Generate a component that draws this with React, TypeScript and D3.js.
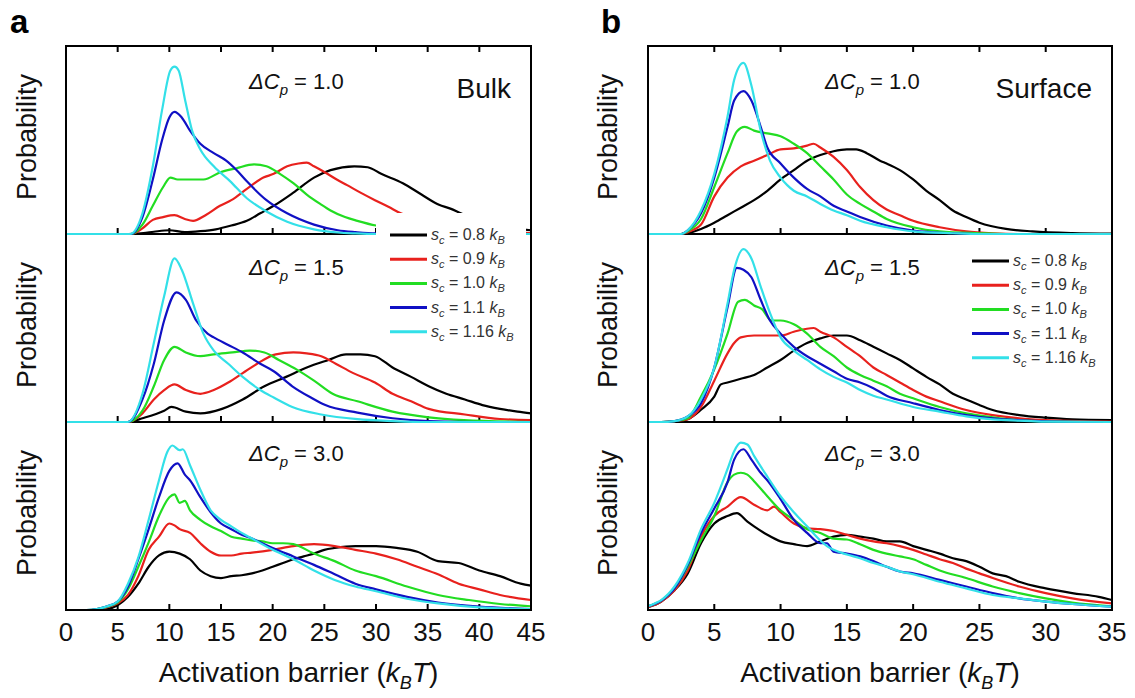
import React from 'react';
import * as d3 from 'd3';

type Pt = [number, number];

// ---- legend / labels ----
const scLabels = ['0.8', '0.9', '1.0', '1.1', '1.16'];
const seriesColors = ['#000000', '#e8211d', '#22dd22', '#1010c4', '#33e0e8'];
const dCpLabels = ['1.0', '1.5', '3.0'];
const bulkTicks = [0, 5, 10, 15, 20, 25, 30, 35, 40, 45];
const surfTicks = [0, 5, 10, 15, 20, 25, 30, 35];

// ---- Bulk, ΔCp = 1.0 ----
const b10_s08: Pt[] = [[0,0],[6,0],[7.5,0.005],[8.5,0.012],[10,0.02],[11.5,0.01],[13,0.015],[14.5,0.025],[16,0.045],[17.5,0.07],[18.8,0.11],[20.1,0.15],[22,0.22],[24,0.3],[25.6,0.34],[27.9,0.36],[29.2,0.355],[30.5,0.32],[32.6,0.27],[34.4,0.21],[36.1,0.155],[37.2,0.135],[38.2,0.11],[40,0.07],[42,0.04],[45,0.02]];
const b10_s09: Pt[] = [[0,0],[6.3,0],[7.4,0.03],[8.4,0.075],[9.4,0.09],[10.5,0.1],[11.5,0.08],[12.3,0.07],[13.5,0.1],[14.9,0.15],[16,0.18],[17.5,0.24],[19.1,0.3],[20.1,0.32],[21.4,0.36],[22.5,0.375],[23.3,0.38],[24,0.36],[25,0.33],[26.2,0.29],[27.2,0.26],[28.5,0.22],[29.9,0.18],[31.2,0.145],[32.4,0.11],[34,0.08],[36,0.05],[40,0.02],[45,0.005]];
const b10_s10: Pt[] = [[0,0],[6.3,0],[7.4,0.05],[8.4,0.15],[9.4,0.25],[10.1,0.3],[10.8,0.29],[12.2,0.29],[13.3,0.29],[15,0.33],[16.5,0.35],[18.2,0.37],[19.4,0.36],[20.7,0.32],[22,0.27],[23.3,0.21],[24.6,0.16],[25.6,0.125],[27,0.09],[28.2,0.07],[30,0.045],[32,0.03],[35,0.015],[38,0.006],[45,0]];
const b10_s11: Pt[] = [[0,0],[6.3,0],[7.4,0.09],[8.4,0.29],[9.3,0.5],[10,0.62],[10.5,0.65],[11.2,0.62],[12,0.55],[13,0.48],[14.3,0.43],[15.5,0.39],[16.5,0.34],[17.5,0.28],[19.4,0.18],[21.4,0.11],[24,0.05],[26.3,0.02],[28,0.01],[30,0.003],[45,0]];
const b10_s116: Pt[] = [[0,0],[6.2,0],[7.4,0.11],[8.4,0.36],[9.3,0.66],[10.1,0.87],[10.5,0.89],[10.9,0.87],[11.5,0.72],[12.2,0.55],[13,0.45],[14.3,0.36],[15.9,0.28],[17.5,0.19],[19.4,0.12],[21.4,0.065],[24,0.025],[26.3,0.008],[28,0.003],[30,0],[45,0]];

// ---- Bulk, ΔCp = 1.5 ----
const b15_s08: Pt[] = [[0,0],[6,0],[7.4,0.02],[9.5,0.06],[10.2,0.08],[11.6,0.055],[13,0.046],[15.1,0.07],[17.1,0.12],[19.2,0.19],[21.3,0.24],[23.3,0.29],[25.4,0.33],[27.1,0.36],[28.5,0.36],[29.9,0.35],[31.6,0.29],[33.4,0.24],[35.1,0.19],[36.8,0.15],[38.6,0.12],[40.3,0.09],[42,0.07],[43.7,0.055],[45,0.046]];
const b15_s09: Pt[] = [[0,0],[6,0],[7.4,0.046],[8.5,0.12],[9.5,0.17],[10.5,0.2],[11.6,0.17],[13,0.15],[14.3,0.17],[15.7,0.21],[17.1,0.26],[18.5,0.31],[20.3,0.36],[22,0.37],[23.3,0.365],[24.7,0.35],[26.1,0.31],[27.8,0.26],[29.9,0.21],[31.6,0.15],[33.4,0.11],[35.1,0.07],[38.6,0.04],[42,0.016],[45,0.01]];
const b15_s10: Pt[] = [[0,0],[6,0],[7.4,0.06],[8.5,0.19],[9.5,0.33],[10.5,0.4],[11.6,0.37],[13,0.35],[14.3,0.36],[16.1,0.37],[17.8,0.38],[19.2,0.37],[20.6,0.33],[22.3,0.28],[24,0.22],[25.8,0.15],[28.2,0.11],[31.6,0.055],[35.1,0.025],[38.5,0.01],[45,0]];
const b15_s11: Pt[] = [[0,0],[6,0],[7.4,0.12],[8.5,0.31],[9.5,0.54],[10.7,0.69],[11.6,0.65],[12.6,0.54],[13.7,0.47],[14.3,0.45],[15.7,0.41],[17.1,0.37],[18.8,0.31],[20.1,0.27],[21.9,0.19],[23.7,0.13],[25.1,0.09],[28.2,0.05],[31.6,0.02],[35.1,0.005],[40,0],[45,0]];
const b15_s116: Pt[] = [[0,0],[6,0],[7.4,0.15],[8.5,0.42],[9.5,0.67],[10.5,0.87],[11.2,0.81],[12.3,0.63],[13.3,0.47],[14.3,0.38],[15.7,0.31],[17.1,0.24],[18.8,0.17],[20.1,0.13],[21.9,0.08],[24.7,0.04],[28.2,0.015],[31.6,0.005],[35,0],[45,0]];

// ---- Bulk, ΔCp = 3.0 ----
const b30_s08: Pt[] = [[0,0],[3,0],[4,0.005],[5,0.025],[6,0.07],[7,0.14],[8,0.23],[9,0.29],[10,0.31],[11,0.3],[12,0.27],[13,0.21],[14,0.18],[15,0.17],[16,0.18],[17,0.185],[18,0.195],[19,0.21],[20,0.23],[21,0.25],[22,0.27],[23,0.285],[24,0.3],[25,0.32],[26,0.33],[28,0.34],[30,0.34],[32,0.33],[34,0.31],[36,0.26],[38,0.25],[40,0.21],[42,0.18],[44,0.14],[45,0.13]];
const b30_s09: Pt[] = [[0,0],[2.5,0],[4,0.015],[5,0.035],[6,0.08],[7,0.18],[8,0.32],[9,0.39],[10,0.46],[10.5,0.45],[11,0.43],[12,0.41],[13,0.355],[14,0.31],[15,0.29],[16,0.29],[17,0.3],[18,0.305],[20,0.32],[22,0.34],[24,0.35],[26,0.34],[28,0.32],[30,0.3],[32,0.27],[34,0.23],[36,0.19],[38,0.14],[40,0.11],[42,0.08],[45,0.053]];
const b30_s10: Pt[] = [[0,0],[2,0],[3,0.005],[4,0.018],[5,0.04],[6,0.11],[7,0.23],[8,0.36],[9,0.5],[10,0.6],[10.5,0.615],[11,0.57],[11.5,0.58],[12,0.53],[13,0.48],[14,0.445],[15,0.42],[16,0.39],[17,0.38],[18,0.37],[19,0.365],[20,0.355],[21,0.355],[22,0.35],[24,0.3],[26,0.26],[28,0.21],[30,0.18],[33,0.125],[36,0.08],[39,0.053],[42,0.032],[45,0.02]];
const b30_s11: Pt[] = [[0,0],[2,0],[3,0.005],[4,0.02],[5,0.045],[6,0.125],[7,0.27],[8,0.43],[9,0.6],[10,0.74],[10.8,0.78],[11.5,0.72],[12,0.69],[13,0.6],[14,0.52],[15,0.46],[16,0.43],[17,0.4],[18,0.38],[20,0.33],[22,0.285],[24,0.24],[26,0.19],[28,0.14],[30,0.11],[33,0.07],[36,0.04],[40,0.018],[45,0.005]];
const b30_s116: Pt[] = [[0,0],[2,0],[3,0.005],[4,0.02],[5,0.045],[6,0.14],[7,0.28],[8,0.48],[9,0.69],[9.8,0.84],[10.3,0.875],[11,0.85],[11.3,0.855],[12,0.77],[13,0.64],[14,0.53],[15,0.48],[16,0.445],[17,0.41],[18,0.38],[20,0.32],[22,0.27],[24,0.21],[26,0.16],[28,0.125],[30,0.1],[33,0.06],[36,0.035],[40,0.014],[45,0.005]];

// ---- Surface, ΔCp = 1.0 ----
const s10_s08: Pt[] = [[0,0],[2.5,0],[3,0.005],[4,0.027],[5,0.06],[6,0.1],[7,0.14],[8,0.18],[9,0.23],[10,0.29],[11,0.34],[12,0.39],[13,0.42],[14,0.44],[15,0.45],[15.7,0.45],[16.5,0.43],[17.5,0.39],[18,0.375],[19,0.34],[20,0.29],[21,0.23],[22,0.18],[23,0.125],[24,0.09],[25,0.06],[27,0.027],[29,0.014],[32,0.005],[35,0.002]];
const s10_s09: Pt[] = [[0,0],[2.5,0],[3,0.01],[4,0.05],[5,0.2],[6,0.3],[7,0.36],[8,0.39],[9,0.42],[10,0.45],[11,0.455],[12,0.47],[12.5,0.48],[13,0.46],[14,0.41],[15,0.34],[16,0.25],[17,0.18],[18,0.13],[19,0.1],[20,0.07],[22,0.036],[24,0.014],[26,0.004],[28,0],[35,0]];
const s10_s10: Pt[] = [[0,0],[2.5,0],[3,0.015],[4,0.08],[5,0.25],[6,0.43],[6.7,0.545],[7.3,0.57],[8,0.55],[9,0.535],[10,0.52],[11,0.48],[12,0.43],[13,0.36],[14,0.29],[15,0.21],[16,0.16],[17,0.12],[18,0.08],[20,0.036],[22,0.014],[25,0.004],[27,0],[35,0]];
const s10_s11: Pt[] = [[0,0],[2.5,0],[3,0.02],[4,0.11],[5,0.3],[6,0.57],[6.5,0.71],[7.2,0.76],[7.8,0.71],[8.5,0.57],[9,0.46],[10,0.375],[11,0.3],[12,0.24],[13,0.2],[14,0.15],[15,0.12],[16,0.09],[18,0.045],[20,0.018],[23,0.004],[25,0],[35,0]];
const s10_s116: Pt[] = [[0,0],[2.5,0],[3,0.02],[4,0.125],[5,0.32],[6,0.625],[6.5,0.82],[7.2,0.91],[7.8,0.79],[8.5,0.55],[9.2,0.39],[10,0.3],[10.5,0.26],[11,0.23],[12,0.2],[13,0.16],[14,0.125],[15,0.1],[16,0.07],[18,0.036],[20,0.014],[23,0.004],[25,0],[35,0]];

// ---- Surface, ΔCp = 1.5 ----
const s15_s08: Pt[] = [[0,0],[1,0],[2,0.003],[3,0.015],[4,0.065],[5,0.135],[5.5,0.2],[6,0.21],[7,0.23],[8,0.25],[9,0.29],[10,0.33],[11,0.38],[12,0.42],[13,0.445],[14,0.46],[15,0.46],[16,0.435],[17,0.4],[18,0.365],[19,0.33],[20,0.285],[21,0.24],[22,0.2],[23,0.15],[24,0.12],[25,0.09],[26,0.064],[28,0.037],[30,0.023],[32,0.014],[35,0.01]];
const s15_s09: Pt[] = [[0,0],[1,0],[2,0.005],[3,0.015],[4,0.08],[5,0.22],[6,0.365],[6.5,0.42],[7,0.45],[8,0.46],[9,0.46],[10,0.46],[11,0.48],[12.5,0.5],[13,0.48],[14,0.45],[15,0.4],[16,0.35],[17,0.29],[18,0.25],[19,0.21],[20,0.17],[21,0.135],[22,0.11],[24,0.064],[26,0.037],[28,0.02],[30,0.01],[33,0.004],[35,0.002]];
const s15_s10: Pt[] = [[0,0],[1,0],[2,0.005],[3,0.02],[4,0.135],[5,0.28],[6,0.47],[6.8,0.64],[7.3,0.65],[8,0.62],[8.6,0.6],[9.3,0.54],[10,0.54],[11,0.52],[12,0.47],[13,0.4],[14,0.35],[15,0.29],[16,0.25],[17,0.22],[18,0.19],[19,0.15],[20,0.126],[22,0.08],[24,0.046],[26,0.025],[28,0.01],[30,0.004],[35,0]];
const s15_s11: Pt[] = [[0,0],[1,0],[2,0.005],[3,0.03],[4,0.1],[5,0.29],[6,0.61],[6.7,0.82],[7.2,0.81],[7.8,0.77],[8.5,0.65],[9.2,0.54],[10,0.47],[11,0.4],[12,0.35],[13,0.31],[14,0.27],[15,0.23],[16,0.21],[17,0.18],[18,0.14],[20,0.1],[22,0.064],[24,0.037],[26,0.02],[28,0.01],[30,0.004],[35,0]];
const s15_s116: Pt[] = [[0,0],[1,0],[2,0.005],[3,0.03],[4,0.12],[5,0.29],[6,0.63],[6.5,0.81],[7.2,0.92],[7.8,0.87],[8.5,0.72],[9.2,0.58],[10,0.45],[11,0.38],[12,0.33],[13,0.28],[14,0.24],[15,0.21],[16,0.17],[17,0.14],[18,0.12],[20,0.08],[22,0.055],[24,0.03],[26,0.014],[28,0.007],[30,0.002],[35,0]];

// ---- Surface, ΔCp = 3.0 ----
const s30_s08: Pt[] = [[0,0.015],[1,0.045],[2,0.105],[3,0.195],[4,0.355],[5,0.46],[6,0.5],[6.7,0.515],[7.5,0.47],[8,0.445],[9,0.4],[10,0.365],[11,0.35],[12,0.34],[13,0.365],[14,0.39],[15,0.4],[16,0.39],[17,0.38],[18,0.365],[19,0.365],[20,0.34],[21,0.32],[22,0.3],[23,0.275],[24,0.26],[25,0.23],[26,0.195],[27,0.18],[28,0.15],[30,0.115],[32,0.09],[34,0.07],[35,0.053]];
const s30_s09: Pt[] = [[0,0.015],[1,0.045],[2,0.105],[3,0.21],[4,0.39],[5,0.5],[6,0.55],[7,0.6],[8,0.56],[9,0.53],[9.5,0.55],[10,0.52],[11,0.46],[12,0.435],[13,0.43],[14,0.42],[15,0.4],[16,0.38],[17,0.365],[18,0.355],[19,0.34],[20,0.32],[21,0.295],[22,0.27],[23,0.25],[24,0.22],[25,0.195],[26,0.17],[28,0.125],[30,0.09],[32,0.062],[35,0.035]];
const s30_s10: Pt[] = [[0,0.02],[1,0.05],[2,0.115],[3,0.23],[4,0.37],[5,0.5],[6,0.68],[6.5,0.72],[7,0.73],[7.5,0.72],[8,0.685],[9,0.605],[10,0.53],[11,0.48],[12,0.43],[13,0.41],[14,0.38],[15,0.375],[16,0.35],[17,0.32],[18,0.3],[19,0.285],[20,0.27],[21,0.24],[22,0.21],[24,0.17],[26,0.125],[28,0.09],[30,0.062],[32,0.04],[35,0.02]];
const s30_s11: Pt[] = [[0,0.02],[1,0.05],[2,0.115],[3,0.24],[4,0.41],[5,0.54],[6,0.68],[6.5,0.8],[7.2,0.855],[7.8,0.8],[8.5,0.73],[9,0.69],[10,0.59],[11,0.48],[12,0.41],[13,0.355],[13.5,0.355],[14,0.31],[15,0.3],[16,0.285],[17,0.26],[18,0.23],[19,0.205],[20,0.195],[22,0.16],[24,0.125],[26,0.09],[28,0.062],[30,0.045],[32,0.032],[35,0.018]];
const s30_s116: Pt[] = [[0,0.02],[0.5,0.035],[1,0.053],[2,0.125],[3,0.25],[4,0.43],[5,0.57],[6,0.75],[6.5,0.845],[7,0.89],[7.5,0.88],[8,0.82],[9,0.71],[10,0.605],[11,0.52],[12,0.445],[13,0.37],[13.5,0.34],[14,0.32],[15,0.295],[16,0.275],[17,0.25],[18,0.23],[19,0.205],[20,0.19],[22,0.15],[24,0.115],[26,0.08],[28,0.062],[30,0.045],[32,0.032],[35,0.018]];

const bulkRows: Pt[][][] = [
  [b10_s08, b10_s09, b10_s10, b10_s11, b10_s116],
  [b15_s08, b15_s09, b15_s10, b15_s11, b15_s116],
  [b30_s08, b30_s09, b30_s10, b30_s11, b30_s116],
];
const surfRows: Pt[][][] = [
  [s10_s08, s10_s09, s10_s10, s10_s11, s10_s116],
  [s15_s08, s15_s09, s15_s10, s15_s11, s15_s116],
  [s30_s08, s30_s09, s30_s10, s30_s11, s30_s116],
];

const FONT = '"Liberation Sans", Arial, sans-serif';
const TOP = 46;
const ROW_H = 188;

type ColCfg = {
  key: string;
  letter: string;
  x0: number;
  x1: number;
  max: number;
  ticks: number[];
  rows: Pt[][][];
  tag: string;
  dcpX: number;
  legendX: number;
  legendY: number;
  ylabX: number;
};

const cols: ColCfg[] = [
  { key: 'a', letter: 'a', x0: 66, x1: 531, max: 45, ticks: bulkTicks, rows: bulkRows, tag: 'Bulk', dcpX: 249, legendX: 390, legendY: 235, ylabX: 36 },
  { key: 'b', letter: 'b', x0: 648, x1: 1112, max: 35, ticks: surfTicks, rows: surfRows, tag: 'Surface', dcpX: 825, legendX: 972, legendY: 261, ylabX: 617 },
];

function DCp({ x, y, v }: { x: number; y: number; v: string }) {
  return (
    <text x={x} y={y} fontFamily={FONT} fontSize={22} fill="#111">
      <tspan fontStyle="italic">ΔC</tspan>
      <tspan fontStyle="italic" fontSize={15} dy={6}>p</tspan>
      <tspan dy={-6}> = {v}</tspan>
    </text>
  );
}

function Column({ c }: { c: ColCfg }) {
  const x = d3.scaleLinear().domain([0, c.max]).range([c.x0, c.x1]);
  const bottomY = TOP + 3 * ROW_H;
  return (
    <g>
      {c.rows.map((row, r) => {
        const top = TOP + r * ROW_H;
        const y = d3.scaleLinear().domain([0, 1]).range([top + ROW_H, top]);
        const line = d3
          .line<Pt>()
          .x((d) => x(d[0]))
          .y((d) => y(d[1]))
          .curve(d3.curveMonotoneX);
        return (
          <g key={r}>
            <line x1={c.x0} x2={c.x1} y1={top + ROW_H} y2={top + ROW_H} stroke="#000" strokeWidth={2} />
            {c.ticks
              .filter((t) => t > 0 && t < c.max)
              .map((t) => (
                <g key={t}>
                  <line x1={x(t)} x2={x(t)} y1={top + ROW_H} y2={top + ROW_H - 6} stroke="#000" strokeWidth={2} />
                  {r === 0 && <line x1={x(t)} x2={x(t)} y1={top} y2={top + 6} stroke="#000" strokeWidth={2} />}
                </g>
              ))}
            {row.map((s, i) => (
              <path key={i} d={line(s) || ''} fill="none" stroke={seriesColors[i]} strokeWidth={2.2} strokeLinejoin="round" />
            ))}
            <text
              transform={`translate(${c.ylabX},${top + ROW_H / 2 - 3}) rotate(-90)`}
              textAnchor="middle"
              fontFamily={FONT}
              fontSize={27}
              fill="#111"
            >
              Probability
            </text>
            <DCp x={c.dcpX} y={top + 43 - r * 2} v={dCpLabels[r]} />
          </g>
        );
      })}
      <rect x={c.x0} y={TOP} width={c.x1 - c.x0} height={3 * ROW_H} fill="none" stroke="#000" strokeWidth={2} />
      {c.ticks.map((t) => (
        <text key={t} x={x(t)} y={bottomY + 31} textAnchor="middle" fontFamily={FONT} fontSize={26} fill="#111">
          {t}
        </text>
      ))}
      <text x={(c.x0 + c.x1) / 2} y={bottomY + 72} textAnchor="middle" fontFamily={FONT} fontSize={28} fill="#111">
        Activation barrier (<tspan fontStyle="italic">k</tspan>
        <tspan fontStyle="italic" fontSize={18} dy={7}>B</tspan>
        <tspan fontStyle="italic" dy={-7}>T</tspan>)
      </text>
      <text x={c.x1 - 20} y={TOP + 52} textAnchor="end" fontFamily={FONT} fontSize={28} fill="#111">
        {c.tag}
      </text>
      <text x={c.key === 'a' ? 10 : 601} y={33} fontFamily={FONT} fontSize={33} fontWeight="bold" fill="#000">
        {c.letter}
      </text>
    </g>
  );
}

function Legend({ x0, y0, cover }: { x0: number; y0: number; cover: boolean }) {
  return (
    <g>
      {cover && <rect x={376} y={213} width={150} height={132} fill="#fff" />}
      {scLabels.map((s, i) => {
        const yy = y0 + i * 24.2;
        return (
          <g key={s}>
            <line x1={x0} x2={x0 + 37} y1={yy} y2={yy} stroke={seriesColors[i]} strokeWidth={3} />
            <text x={x0 + 41} y={yy + 5} fontFamily={FONT} fontSize={16} fill="#333">
              <tspan fontStyle="italic">s</tspan>
              <tspan fontStyle="italic" fontSize={11} dy={4}>c</tspan>
              <tspan dy={-4}> = {s} </tspan>
              <tspan fontStyle="italic">k</tspan>
              <tspan fontStyle="italic" fontSize={11} dy={4}>B</tspan>
            </text>
          </g>
        );
      })}
    </g>
  );
}

export default function App() {
  return (
    <svg
      width={1135}
      height={698}
      viewBox="0 0 1135 698"
      style={{ position: 'absolute', left: 0, top: 0, background: '#fff' }}
    >
      <rect x={0} y={0} width={1135} height={698} fill="#fff" />
      {cols.map((c) => (
        <Column key={c.key} c={c} />
      ))}
      <Legend x0={cols[0].legendX} y0={cols[0].legendY} cover={true} />
      <Legend x0={cols[1].legendX} y0={cols[1].legendY} cover={false} />
    </svg>
  );
}
